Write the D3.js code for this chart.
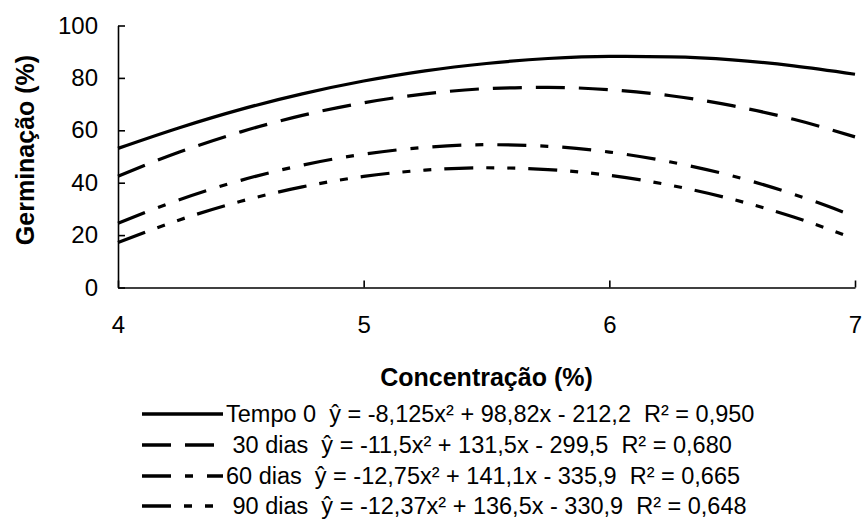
<!DOCTYPE html>
<html>
<head>
<meta charset="utf-8">
<script src="https://cdn.jsdelivr.net/npm/d3@7"></script>
<style>
  html, body { margin: 0; padding: 0; background: #fff; }
  svg { display: block; }
  text { font-family: Arial, "Liberation Sans", sans-serif; fill: #000; }
</style>
</head>
<body>
<svg id="chart" width="864" height="526"></svg>
<script>
// ---- data ----
const concentrations = [4, 4.25, 4.5, 4.75, 5, 5.25, 5.5, 5.75, 6, 6.25, 6.5, 6.75, 7];
const tempo0 = [53.1, 61.0, 68.0, 73.9, 78.8, 82.7, 85.5, 87.4, 88.2, 88.0, 86.9, 84.6, 81.4];
const dias30 = [42.5, 51.7, 59.4, 65.7, 70.5, 73.9, 75.9, 76.4, 75.5, 73.2, 69.4, 64.2, 57.5];
const dias60 = [24.5, 33.5, 40.9, 46.7, 50.9, 53.5, 54.5, 53.9, 51.7, 47.9, 42.6, 35.6, 27.1];
const dias90 = [17.2, 25.8, 32.9, 38.4, 42.4, 44.8, 45.7, 45.0, 42.8, 39.0, 33.7, 26.9, 18.5];
const seriesNames = ["Tempo 0", "30 dias", "60 dias", "90 dias"];
const legendLabels = [
  "Tempo 0  ŷ = -8,125x² + 98,82x - 212,2  R² = 0,950",
  " 30 dias  ŷ = -11,5x² + 131,5x - 299,5  R² = 0,680",
  "60 dias  ŷ = -12,75x² + 141,1x - 335,9  R² = 0,665",
  " 90 dias  ŷ = -12,37x² + 136,5x - 330,9  R² = 0,648"
];
const xTicks = [4, 5, 6, 7];
const yTicks = [0, 20, 40, 60, 80, 100];
const xTitle = "Concentração (%)";
const yTitle = "Germinação (%)";

const seriesValues = [tempo0, dias30, dias60, dias90];
const dashes = [null, "29,14", "29,14,8,14", "29,13,8,13,8,13"];

const svg = d3.select("#chart");
const x = d3.scaleLinear().domain([4, 7]).range([118, 855]);
const y = d3.scaleLinear().domain([0, 100]).range([287.5, 25.5]);

// axes
const yAxis = d3.axisLeft(y).tickValues(yTicks).tickFormat(d3.format("d"))
  .tickSizeInner(-7).tickSizeOuter(0).tickPadding(20);
const xAxis = d3.axisBottom(x).tickValues(xTicks).tickFormat(d3.format("d"))
  .tickSizeInner(-7).tickSizeOuter(0).tickPadding(28);

const gy = svg.append("g").attr("transform", `translate(${x(4)},0)`).call(yAxis);
const gx = svg.append("g").attr("transform", `translate(0,${y(0)})`).call(xAxis);
[gx, gy].forEach(g => {
  g.selectAll("path.domain").attr("stroke", "#000").attr("stroke-width", 1.6);
  g.selectAll(".tick line").attr("stroke", "#000").attr("stroke-width", 1.6);
  g.selectAll(".tick text").attr("font-size", 24).attr("font-family", "Arial, 'Liberation Sans', sans-serif").attr("fill", "#000");
});

// lines
const line = d3.line()
  .x((d, i) => x(concentrations[i]))
  .y(d => y(d))
  .curve(d3.curveMonotoneX);

seriesValues.forEach((vals, k) => {
  svg.append("path")
    .datum(vals)
    .attr("fill", "none")
    .attr("stroke", "#000")
    .attr("stroke-width", 3.2)
    .attr("stroke-dasharray", dashes[k])
    .attr("d", line);
});

// axis titles
svg.append("text")
  .attr("x", (x(4) + x(7)) / 2)
  .attr("y", 386)
  .attr("text-anchor", "middle")
  .attr("font-size", 25)
  .attr("font-weight", "bold")
  .text(xTitle);

svg.append("text")
  .attr("transform", `translate(34,${150}) rotate(-90)`)
  .attr("text-anchor", "middle")
  .attr("font-size", 25)
  .attr("font-weight", "bold")
  .text(yTitle);

// legend
const legend = svg.append("g");
const rowY = [414, 445, 476, 506];
seriesNames.forEach((name, k) => {
  legend.append("line")
    .attr("x1", 142).attr("x2", 223)
    .attr("y1", rowY[k]).attr("y2", rowY[k])
    .attr("stroke", "#000")
    .attr("stroke-width", 3.4)
    .attr("stroke-dasharray", dashes[k]);
  legend.append("text")
    .attr("x", 226)
    .attr("y", rowY[k])
    .attr("dy", "0.34em")
    .attr("font-size", 23.5)
    .style("white-space", "pre")
    .text(legendLabels[k]);
});
</script>
</body>
</html>
